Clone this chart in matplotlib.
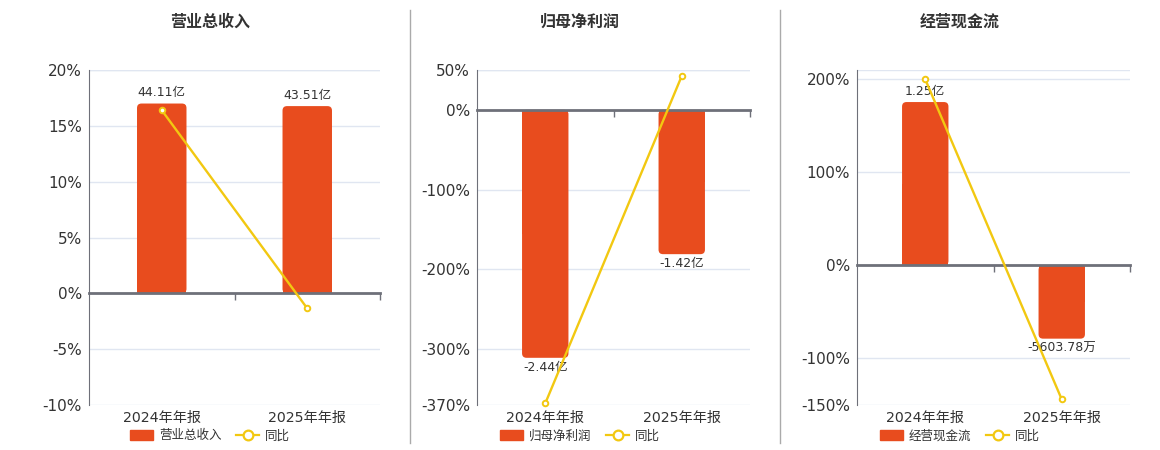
import matplotlib
matplotlib.use("Agg")
import matplotlib.pyplot as plt
from matplotlib.patches import Patch, FancyBboxPatch, Rectangle
from matplotlib.lines import Line2D

plt.rcParams['font.family'] = ['DejaVu Sans', 'Noto Sans CJK SC']

categories = ["2024年年报", "2025年年报"]

titles = ["营业总收入", "归母净利润", "经营现金流"]

# bar values in 亿
revenue = [44.11, 43.51]
net_profit = [-2.44, -1.42]
cash_flow = [1.25, -0.560378]

revenue_labels = ["44.11亿", "43.51亿"]
net_profit_labels = ["-2.44亿", "-1.42亿"]
cash_flow_labels = ["1.25亿", "-5603.78万"]

# year-on-year growth, %
revenue_yoy = [16.4, -1.35]
net_profit_yoy = [-368.0, 42.5]
cash_flow_yoy = [200.0, -144.0]

BAR = "#E84C1E"
LINE = "#F2C811"
GRID = "#E0E6F1"
AXIS = "#6E7079"
TEXT = "#333333"

W, H = 1160, 450
TOP, BOTTOM = 70, 405
RADIUS_PX = 4.5

panels = [
    dict(title=titles[0], bars=revenue, labels=revenue_labels, yoy=revenue_yoy,
         ylim=(-10, 20), yticks=[-10, -5, 0, 5, 10, 15, 20], scale=2.595,
         px=(89, 380), center=210),
    dict(title=titles[1], bars=net_profit, labels=net_profit_labels, yoy=net_profit_yoy,
         ylim=(-370, 50), yticks=[-370, -300, -200, -100, 0, 50], scale=0.00785,
         px=(477, 750), center=580),
    dict(title=titles[2], bars=cash_flow, labels=cash_flow_labels, yoy=cash_flow_yoy,
         ylim=(-150, 210), yticks=[-150, -100, 0, 100, 200], scale=0.00712,
         px=(857, 1130), center=960),
]


def round_tips(ax, rects, xpx, ypx):
    # swap plain bars for ones with rounded far-end corners
    xu = 2.0 / xpx
    yr = ax.get_ylim()
    yu = (yr[1] - yr[0]) / ypx
    r = RADIUS_PX * xu
    for rect in rects:
        x0, y0 = rect.get_x(), rect.get_y()
        w, h = rect.get_width(), rect.get_height()
        rect.remove()
        lo, hi = min(y0, y0 + h), max(y0, y0 + h)
        ax.add_patch(FancyBboxPatch((x0, lo), w, hi - lo,
                                    boxstyle=f"round,pad=0,rounding_size={r}",
                                    mutation_aspect=yu / xu, fc=BAR, ec="none",
                                    zorder=2))
        half = (hi - lo) / 2
        base = 0 if y0 + h > 0 else -half
        ax.add_patch(Rectangle((x0, base), w, half, fc=BAR, ec="none", zorder=2))


fig = plt.figure(figsize=(W / 100, H / 100), dpi=100)

for p in panels:
    left = p["px"][0] / W
    xpx = p["px"][1] - p["px"][0]
    ax = fig.add_axes([left, 1 - BOTTOM / H, xpx / W, (BOTTOM - TOP) / H])
    x = range(len(categories))
    ymin, ymax = p["ylim"]

    ax.set_xlim(-0.5, 1.5)
    ax.set_ylim(ymin, ymax)
    ax.set_yticks(p["yticks"])
    ax.set_yticklabels([f"{t}%" for t in p["yticks"]])
    ax.grid(axis="y", color=GRID, lw=1)
    ax.set_axisbelow(True)
    ax.axhline(ymax, color=GRID, lw=1, zorder=0)
    for s in ["top", "right", "bottom"]:
        ax.spines[s].set_visible(False)
    ax.spines["left"].set_color(AXIS)
    ax.tick_params(axis="y", length=0, labelsize=11, labelcolor=TEXT, pad=5)
    ax.set_xticks(list(x))
    ax.set_xticklabels(categories)
    ax.tick_params(axis="x", length=0, labelsize=10.2, labelcolor=TEXT, pad=4)

    # bars on a hidden axis aligned at zero
    bx = ax.twinx()
    bx.set_xlim(-0.5, 1.5)
    bx.set_ylim(ymin * p["scale"], ymax * p["scale"])
    bx.axis("off")
    rects = bx.bar(list(x), p["bars"], width=0.34, color=BAR, zorder=2)
    round_tips(bx, rects, xpx, BOTTOM - TOP)
    for xi, v, lab in zip(x, p["bars"], p["labels"]):
        if v >= 0:
            bx.annotate(lab, (xi, v), xytext=(0, 3), textcoords="offset points",
                        ha="center", va="bottom", fontsize=9, color=TEXT)
        else:
            bx.annotate(lab, (xi, v), xytext=(0, -2), textcoords="offset points",
                        ha="center", va="top", fontsize=9, color=TEXT)

    # yoy line on top, zero axis drawn on this layer so it sits over bars
    lx = ax.twinx()
    lx.set_xlim(-0.5, 1.5)
    lx.set_ylim(ymin, ymax)
    lx.axis("off")
    zfrac = (0 - ymin) / (ymax - ymin)
    sec = lx.secondary_xaxis(zfrac)
    sec.set_alignment("bottom")
    sec.set_xticks([0.5, 1.5])
    sec.set_xticklabels([])
    sec.tick_params(length=5, color=AXIS, width=1, direction="out")
    sec.spines["bottom"].set_color(AXIS)
    sec.spines["bottom"].set_linewidth(2)
    lx.plot(list(x), p["yoy"], color=LINE, lw=1.7, marker="o", ms=4,
            mfc="white", mec=LINE, mew=1.4, zorder=3, clip_on=False)

    fig.text(p["center"] / W, 1 - 22 / H, p["title"], ha="center", va="center",
             fontsize=11.5, fontweight="bold", color=TEXT)

    handles = [Patch(facecolor=BAR, edgecolor=BAR),
               Line2D([0], [0], color=LINE, lw=1.6, marker="o", ms=7,
                      mfc="white", mec=LINE, mew=1.6)]
    fig.legend(handles, [p["title"], "同比"], loc="center",
               bbox_to_anchor=(p["center"] / W, 1 - 436 / H), ncol=2,
               frameon=False, fontsize=9, handlelength=1.8, handleheight=0.9,
               handletextpad=0.5, columnspacing=1.2, labelcolor=TEXT)

for xs in [410, 780]:
    fig.add_artist(Line2D([xs / W, xs / W], [1 - 10 / H, 1 - 443 / H],
                          color="#AAAAAA", lw=1))

fig.savefig("out.png", dpi=100)
